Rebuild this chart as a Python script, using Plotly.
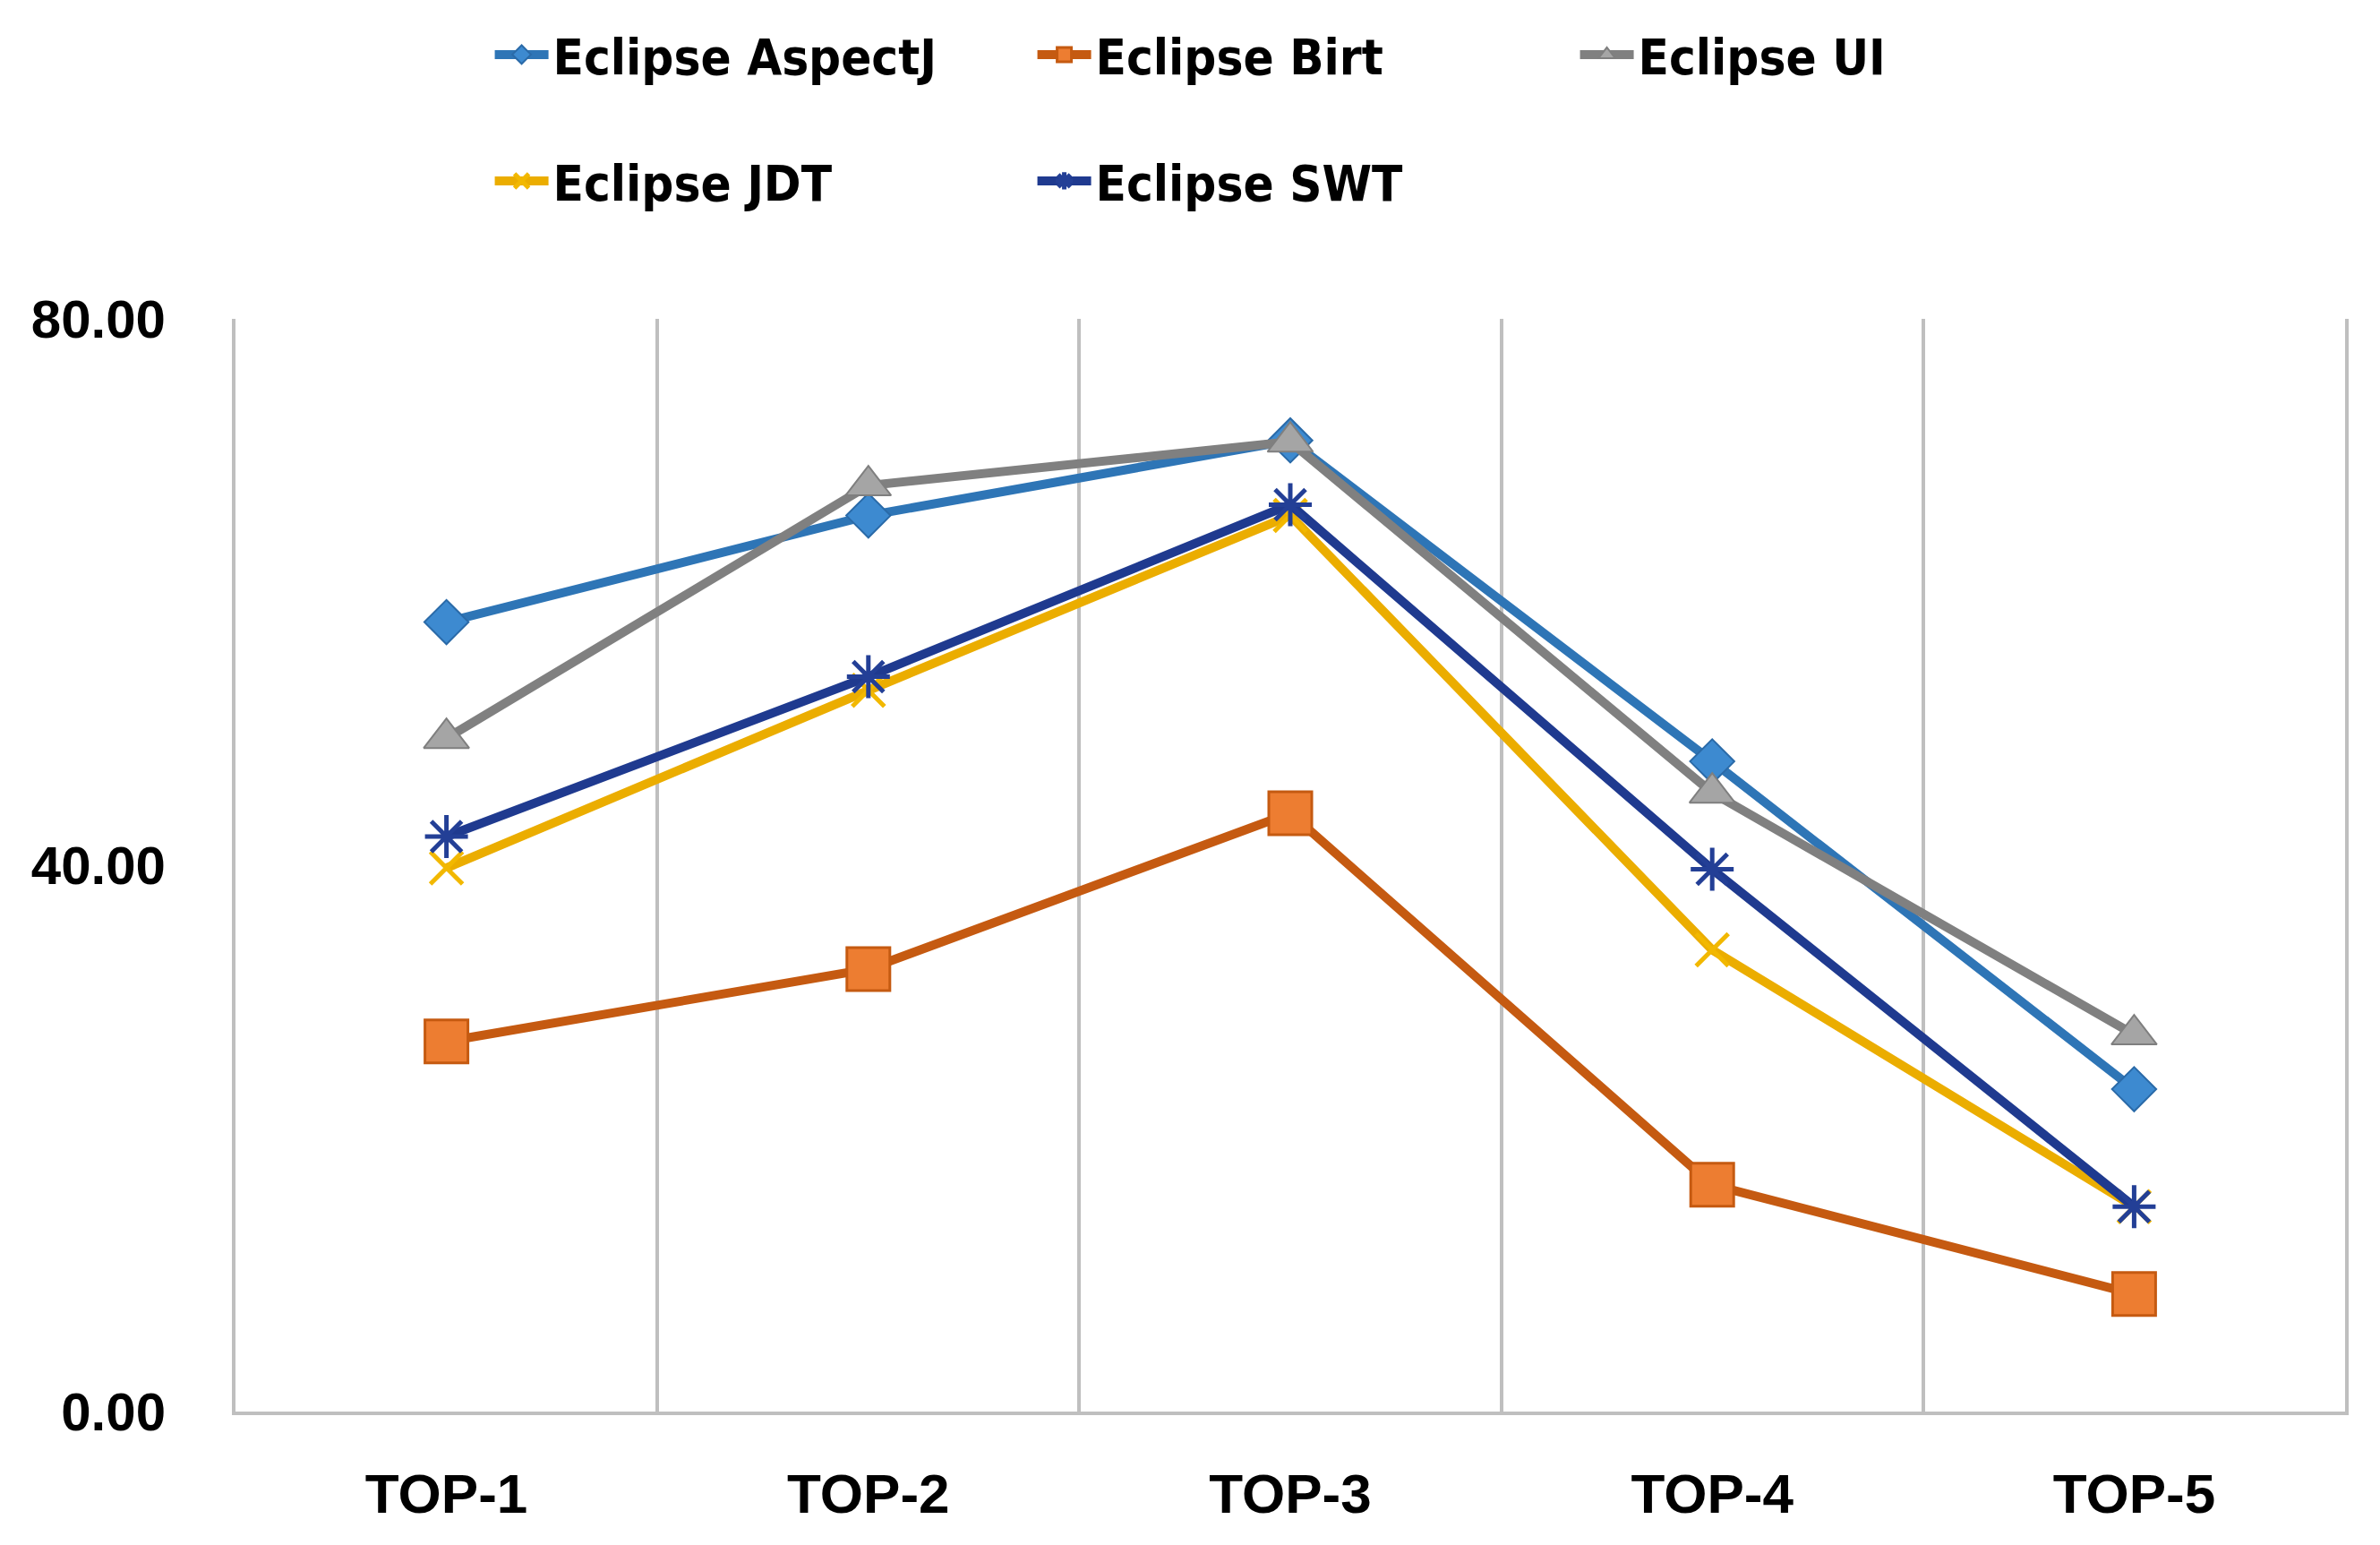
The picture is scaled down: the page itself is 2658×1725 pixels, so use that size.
import plotly.graph_objects as go

categories = ["TOP-1", "TOP-2", "TOP-3", "TOP-4", "TOP-5"]
aspectj = [57.8, 65.6, 71.1, 47.6, 23.6]
birt = [27.1, 32.4, 43.8, 16.6, 8.6]
ui = [49.3, 67.8, 71.0, 45.3, 27.6]
jdt = [39.8, 52.8, 65.6, 33.8, 15.0]
swt = [42.1, 53.8, 66.4, 39.7, 15.0]
y_ticks = [0, 40, 80]

series = [
    ("Eclipse AspectJ", aspectj, "#2E75B6", dict(symbol="diamond", size=38, color="#3D8AD0", line=dict(color="#2A6AA8", width=2)), "legend"),
    ("Eclipse Birt", birt, "#C55A11", dict(symbol="square", size=48, color="#ED7D31", line=dict(color="#C55A11", width=3)), "legend"),
    ("Eclipse UI", ui, "#808080", dict(symbol="triangle-up", size=44, color="#A5A5A5", line=dict(color="#7F7F7F", width=2)), "legend"),
    ("Eclipse JDT", jdt, "#EBAD00", dict(symbol="x-thin-open", size=36, color="#F2B800", line=dict(color="#F2B800", width=5)), "legend2"),
    ("Eclipse SWT", swt, "#1F3A8F", dict(symbol="asterisk-open", size=40, color="#233F96", line=dict(color="#233F96", width=5)), "legend2"),
]

fig = go.Figure()
for name, vals, col, mk, lg in series:
    fig.add_trace(go.Scatter(
        x=categories, y=vals, name=name, mode="lines+markers",
        line=dict(color=col, width=10), marker=mk, legend=lg,
    ))

legend_font = dict(family="Liberation Sans Narrow, Arial Narrow, DejaVu Sans Condensed, Liberation Sans, sans-serif",
                   size=56, color="#000000", weight="bold")

fig.update_layout(
    width=2658, height=1725,
    paper_bgcolor="white", plot_bgcolor="white",
    margin=dict(l=255, r=47, t=348, b=157),
    showlegend=True,
    legend=dict(
        orientation="h", xref="container", yref="container",
        x=0.203, y=1 - 53 / 1725, xanchor="left", yanchor="middle",
        font=legend_font, entrywidth=531, entrywidthmode="pixels",
        itemwidth=60, bgcolor="rgba(0,0,0,0)",
    ),
    legend2=dict(
        orientation="h", xref="container", yref="container",
        x=0.203, y=1 - 194 / 1725, xanchor="left", yanchor="middle",
        font=legend_font, entrywidth=531, entrywidthmode="pixels",
        itemwidth=60, bgcolor="rgba(0,0,0,0)",
    ),
    xaxis=dict(
        type="category", range=[-0.5, 4.5], tickson="boundaries",
        showgrid=True, gridcolor="#BFBFBF", gridwidth=4,
        showline=True, linecolor="#BFBFBF", linewidth=4,
        ticks="", ticklabelstandoff=35,
        tickfont=dict(family="Liberation Sans", size=62, color="#000000", weight="bold"),
        zeroline=False, automargin=False,
    ),
    yaxis=dict(
        range=[0, 80], tickvals=y_ticks, tickformat=".2f",
        showgrid=False, zeroline=False,
        showline=True, mirror=True, linecolor="#BFBFBF", linewidth=4,
        ticks="", ticklabelstandoff=62, automargin=False,
        tickfont=dict(family="Liberation Sans", size=60, color="#000000", weight="bold"),
    ),
)

fig.write_html("out.html")
